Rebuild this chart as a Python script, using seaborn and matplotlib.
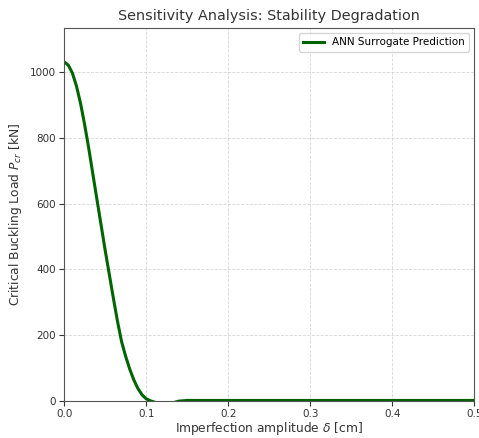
import matplotlib
matplotlib.use("Agg")
import matplotlib.pyplot as plt
import seaborn as sns
import pandas as pd

# values
delta_cm = [0.0, 0.005, 0.01, 0.015, 0.02, 0.025, 0.03, 0.035, 0.04, 0.045,
            0.05, 0.055, 0.06, 0.065, 0.07, 0.075, 0.08, 0.085, 0.09, 0.095,
            0.10, 0.105, 0.11, 0.12, 0.13, 0.14, 0.15, 0.2, 0.25, 0.3, 0.35,
            0.4, 0.45, 0.5]
p_cr_kn = [1032, 1022, 998, 958, 905, 840, 768, 690, 612, 535,
           458, 385, 312, 242, 180, 135, 96, 63, 37, 18,
           6, 0, -4, -12, -8, -1, 1, 1, 1, 1, 1,
           1, 1, 1]

df = pd.DataFrame({"delta": delta_cm, "pcr": p_cr_kn})

fig = plt.figure(figsize=(4.79, 4.38), dpi=100)
ax = fig.add_axes([0.134, 0.085, 0.856, 0.851])

sns.lineplot(data=df, x="delta", y="pcr", color="darkgreen", linewidth=2.2,
             label="ANN Surrogate Prediction", ax=ax)

ax.set_xlim(0, 0.5)
ax.set_ylim(0, 1135)
ax.set_title("Sensitivity Analysis: Stability Degradation", fontsize=10.4, color="#333333")
ax.set_xlabel(r"Imperfection amplitude $\delta$ [cm]", fontsize=8.8, color="#333333", labelpad=1)
ax.set_ylabel(r"Critical Buckling Load $P_{cr}$ [kN]", fontsize=8.8, color="#333333")
ax.tick_params(labelsize=7.5, colors="#333333", pad=2.5)
for s in ax.spines.values():
    s.set_color("#555555")
ax.grid(True, linestyle="--", linewidth=0.6, alpha=0.5)
ax.legend(loc="upper right", fontsize=7.5)

fig.savefig("out.png", dpi=100)
